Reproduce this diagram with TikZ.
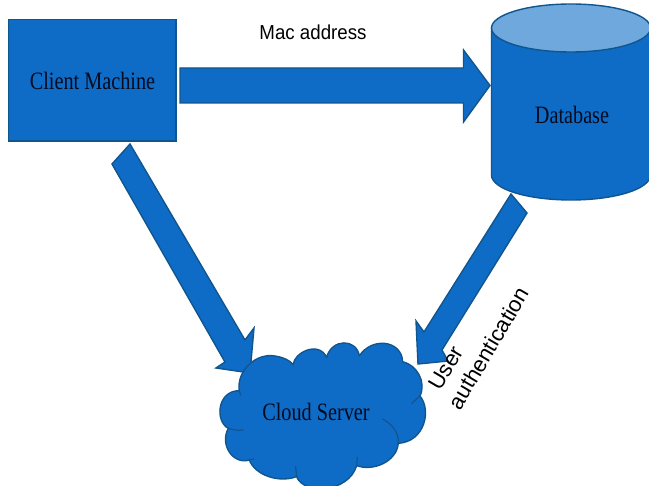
\documentclass[tikz,border=0pt]{standalone}
\usepackage{fontspec}
\setmainfont{Liberation Serif}
\newfontfamily\labelfont{Liberation Sans}
\definecolor{blockfill}{HTML}{0F6CC6}
\definecolor{blockline}{HTML}{11558F}
\definecolor{topfill}{HTML}{6FA8DC}
\definecolor{inktext}{HTML}{050A1E}
\tikzset{
  block/.style={fill=blockfill,draw=blockline,line width=1.4pt,line join=miter},
  crease/.style={draw=blockline,line width=1.2pt,line cap=round},
  serifname/.style={inner sep=0pt,text=inktext,font=\fontsize{25}{25}\selectfont,xscale=0.81},
  sanslabel/.style={inner sep=0pt,text=black,font=\labelfont\fontsize{18.7}{23}\selectfont,yscale=1.08},
  rotlabel/.style={inner sep=0pt,text=black,font=\labelfont\fontsize{22}{22}\selectfont,rotate=59.5},
}
\begin{document}
\begin{tikzpicture}[x=1pt,y=-1pt]
\useasboundingbox (0,0) rectangle (649,486);
\begin{scope}
\clip (0,0) rectangle (649,486);
% Client box
\draw[block] (8.5,19.5) rectangle (176,141);
% Top arrow
\draw[block] (180,68) -- (463.5,68) -- (463.5,50) -- (490,85.5) -- (463.5,122) -- (463.5,103) -- (180,103) -- cycle;
% Database
\draw[block] (491.5,28) -- (491.5,175) .. controls (491.5,189) and (527,200) .. (571,200) .. controls (615,200) and (650.5,189) .. (650.5,175) -- (650.5,28) -- cycle;
\draw[block,fill=topfill] (571,28) ellipse[x radius=79.5,y radius=24];
% Left arrow
\draw[block] (130,144) -- (245,340) -- (254,328) -- (250,373) -- (216,368) -- (225,362) -- (112,164) -- cycle;
% Right arrow
\draw[block] (511,194) -- (527,213) -- (442,350) -- (448,361) -- (418,364) -- (416,321) -- (424,332) -- cycle;
% Cloud
\begin{scope}[shift={(200,320)},x=0.3333pt,y=-0.3333pt]
\draw[block,line join=round] (118,215)
 .. controls (108,150) and (170,98) .. (225,108)
 .. controls (250,112) and (268,120) .. (280,134)
 .. controls (280,100) and (355,60) .. (380,112)
 .. controls (395,55) and (470,55) .. (478,108)
 .. controls (515,50) and (605,60) .. (608,125)
 .. controls (650,135) and (680,185) .. (660,228)
 .. controls (695,270) and (675,365) .. (595,370)
 .. controls (590,425) and (520,455) .. (470,437)
 .. controls (445,520) and (310,525) .. (290,470)
 .. controls (235,490) and (165,465) .. (148,420)
 .. controls (100,435) and (58,375) .. (85,325)
 .. controls (45,305) and (50,212) .. (118,212)
 -- cycle;
\draw[crease] (635,250) -- (660,228);
\draw[crease] (548,297) .. controls (580,315) and (597,340) .. (595,370);
\draw[crease] (130,330) .. controls (115,332) and (100,330) .. (85,325);
\draw[crease] (148,420) -- (162,417);
\draw[crease] (290,470) -- (287,440);
\draw[crease] (470,437) -- (472,412);
\draw[crease] (118,212) -- (122,225);
\end{scope}
\end{scope}
% Texts
\node[serifname] (client) at (92.5,81) {Client Machine};
\node[serifname] (db) at (572,115) {Database};
\node[serifname] (cloud) at (316,412) {Cloud Server};
\node[sanslabel] (mac) at (313,32) {Mac address};
\node[rotlabel] (user) at (446,368) {User};
\node[rotlabel] (auth) at (488.5,348) {authentication};
\end{tikzpicture}
\end{document}
